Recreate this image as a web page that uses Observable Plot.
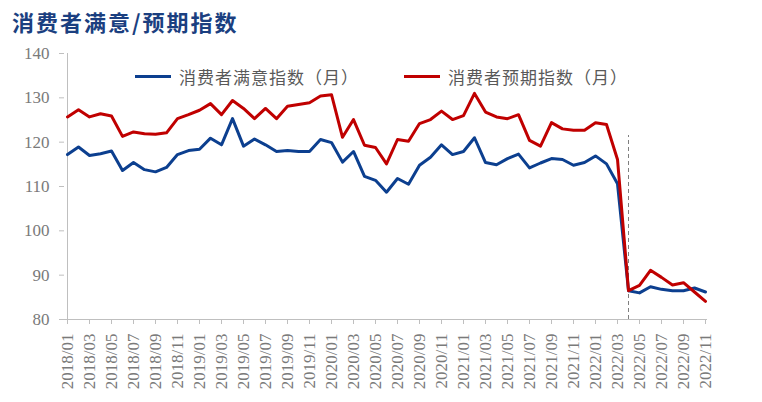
<!DOCTYPE html>
<html><head><meta charset="utf-8">
<script src="https://cdn.jsdelivr.net/npm/d3@7"></script>
<script src="https://cdn.jsdelivr.net/npm/@observablehq/plot@0.6"></script>
<style>
body{margin:0;background:#fff;width:762px;height:402px;overflow:hidden;position:relative;}
#title{position:absolute;left:12px;top:6px;font-family:"Noto Sans CJK SC";font-weight:700;font-size:22px;letter-spacing:2px;color:#1b3f80;line-height:30px;}
#chart{position:absolute;left:0;top:40px;}
.leg{position:absolute;top:64px;height:24px;font-family:"Noto Sans CJK SC";font-size:17px;color:#595959;letter-spacing:1px;display:flex;align-items:center;white-space:nowrap;}
.leg i{display:inline-block;width:36px;height:3px;margin-right:8px;}
</style></head>
<body>
<div id="title">消费者满意/预期指数</div>
<div id="chart"></div>
<div class="leg" style="left:135px"><i style="background:#0c3f8f"></i>消费者满意指数（月）</div>
<div class="leg" style="left:404px"><i style="background:#c00000"></i>消费者预期指数（月）</div>
<script>
const months = ["2018/01","2018/02","2018/03","2018/04","2018/05","2018/06","2018/07","2018/08","2018/09","2018/10","2018/11","2018/12",
"2019/01","2019/02","2019/03","2019/04","2019/05","2019/06","2019/07","2019/08","2019/09","2019/10","2019/11","2019/12",
"2020/01","2020/02","2020/03","2020/04","2020/05","2020/06","2020/07","2020/08","2020/09","2020/10","2020/11","2020/12",
"2021/01","2021/02","2021/03","2021/04","2021/05","2021/06","2021/07","2021/08","2021/09","2021/10","2021/11","2021/12",
"2022/01","2022/02","2022/03","2022/04","2022/05","2022/06","2022/07","2022/08","2022/09","2022/10","2022/11"];
const satisfaction = [117.2,118.9,117.0,117.4,118.0,113.6,115.4,113.8,113.3,114.3,117.2,118.1,
118.4,120.9,119.4,125.3,119.1,120.7,119.4,117.9,118.1,117.9,117.9,120.6,
119.9,115.5,117.9,112.3,111.4,108.7,111.8,110.5,114.8,116.6,119.4,117.2,
117.9,121.0,115.4,114.9,116.3,117.3,114.2,115.3,116.3,116.1,114.8,115.4,
116.9,115.1,110.6,86.5,86.0,87.4,86.8,86.5,86.5,87.1,86.2];
const expectation = [125.7,127.3,125.7,126.4,125.9,121.3,122.3,121.9,121.8,122.1,125.3,126.2,
127.2,128.7,126.2,129.4,127.6,125.3,127.6,125.3,128.1,128.5,128.9,130.4,
130.7,121.1,125.1,119.3,118.8,115.1,120.6,120.2,124.2,125.1,127.0,125.1,
126.0,131.0,126.8,125.7,125.3,126.2,120.4,119.1,124.4,123.0,122.7,122.7,
124.4,124.0,116.1,86.5,87.7,91.1,89.5,87.8,88.3,86.2,84.1];
const seriesNames = ["消费者满意指数（月）","消费者预期指数（月）"];
const seriesColors = ["#0c3f8f","#c00000"];
const yTicks = [80,90,100,110,120,130,140];
const xTicks = months.filter((m,i)=>i%2===0);
const dashMonth = ["2022/04"];
const dashTop = 121.5;

const data = [
  ...months.map((m,i)=>({month:m, value:satisfaction[i], series:seriesNames[0]})),
  ...months.map((m,i)=>({month:m, value:expectation[i], series:seriesNames[1]}))
];

const chart = Plot.plot({
  width: 762, height: 362,
  marginLeft: 64, marginRight: 55, marginTop: 13, marginBottom: 83,
  style: {fontFamily: "Liberation Serif", fontSize: "17px", background: "#fff"},
  x: {type: "point", domain: months, padding: 0, label: null},
  y: {domain: [80,140], label: null},
  color: {domain: seriesNames, range: seriesColors},
  marks: [
    Plot.axisY({ticks: yTicks, tickSize: 5, tickPadding: 10, stroke: "#bfbfbf", fill: "#7a7a7a", fontSize: 17, label: null}),
    Plot.axisX({ticks: xTicks, tickSize: 5, tickPadding: 9, tickRotate: -90, stroke: "#bfbfbf", fill: "#7a7a7a", fontSize: 17, label: null}),
    Plot.ruleY([80], {stroke: "#bfbfbf"}),
    Plot.ruleX([months[0]], {y1: 80, y2: 140, stroke: "#bfbfbf"}),
    Plot.ruleX(dashMonth, {y1: 80, y2: dashTop, stroke: "#7f7f7f", strokeDasharray: "4,3"}),
    Plot.line(data, {x: "month", y: "value", stroke: "series", strokeWidth: 3, z: "series"})
  ]
});
document.getElementById("chart").appendChild(chart);
</script>
</body></html>
